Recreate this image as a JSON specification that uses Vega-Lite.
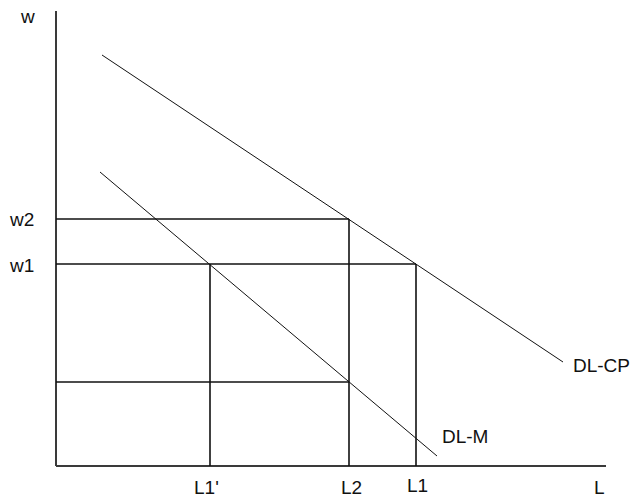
{
  "$schema": "https://vega.github.io/schema/vega-lite/v6.json",
  "width": 631,
  "height": 499,
  "padding": 0,
  "autosize": {"type": "none"},
  "background": "white",
  "config": {"view": {"stroke": null}},
  "layer": [
    {
      "data": {"values": [
        {"x": 0, "y": 0, "x2": 0, "y2": 45.5},
        {"x": 0, "y": 0, "x2": 55, "y2": 0}
      ]},
      "mark": {"type": "rule", "color": "#3a3a3a", "strokeWidth": 2},
      "encoding": {
        "x": {"field": "x", "type": "quantitative", "axis": null, "scale": {"domain": [-5.6, 57.5], "nice": false, "zero": false}},
        "y": {"field": "y", "type": "quantitative", "axis": null, "scale": {"domain": [-3.3, 46.6], "nice": false, "zero": false}},
        "x2": {"field": "x2"},
        "y2": {"field": "y2"}
      }
    },
    {
      "data": {"values": [
        {"x": 0, "y": 24.7, "x2": 29.3, "y2": 24.7},
        {"x": 29.3, "y": 0, "x2": 29.3, "y2": 24.7},
        {"x": 0, "y": 20.2, "x2": 36.0, "y2": 20.2},
        {"x": 36.0, "y": 0, "x2": 36.0, "y2": 20.2},
        {"x": 15.4, "y": 0, "x2": 15.4, "y2": 20.2},
        {"x": 0, "y": 8.4, "x2": 29.3, "y2": 8.4}
      ]},
      "mark": {"type": "rule", "color": "#111111", "strokeWidth": 1.6},
      "encoding": {
        "x": {"field": "x", "type": "quantitative"},
        "y": {"field": "y", "type": "quantitative"},
        "x2": {"field": "x2"},
        "y2": {"field": "y2"}
      }
    },
    {
      "data": {"values": [
        {"name": "DL-CP", "x": 4.6, "y": 41.1, "x2": 50.7, "y2": 10.4},
        {"name": "DL-M", "x": 4.4, "y": 29.4, "x2": 38.1, "y2": 1.0}
      ]},
      "mark": {"type": "rule", "color": "#111111", "strokeWidth": 1},
      "encoding": {
        "x": {"field": "x", "type": "quantitative"},
        "y": {"field": "y", "type": "quantitative"},
        "x2": {"field": "x2"},
        "y2": {"field": "y2"}
      }
    },
    {
      "data": {"values": [
        {"label": "w", "x": -3.5, "y": 44.3},
        {"label": "w2", "x": -4.6, "y": 24.0},
        {"label": "w1", "x": -4.6, "y": 19.4},
        {"label": "L1'", "x": 13.8, "y": -2.8},
        {"label": "L2", "x": 28.5, "y": -2.8},
        {"label": "L1", "x": 35.1, "y": -2.6},
        {"label": "L", "x": 53.8, "y": -2.8},
        {"label": "DL-M", "x": 38.6, "y": 2.3},
        {"label": "DL-CP", "x": 51.7, "y": 9.4}
      ]},
      "mark": {"type": "text", "align": "left", "baseline": "alphabetic", "font": "Liberation Sans", "fontSize": 19, "color": "#111111"},
      "encoding": {
        "x": {"field": "x", "type": "quantitative"},
        "y": {"field": "y", "type": "quantitative"},
        "text": {"field": "label"}
      }
    }
  ]
}
